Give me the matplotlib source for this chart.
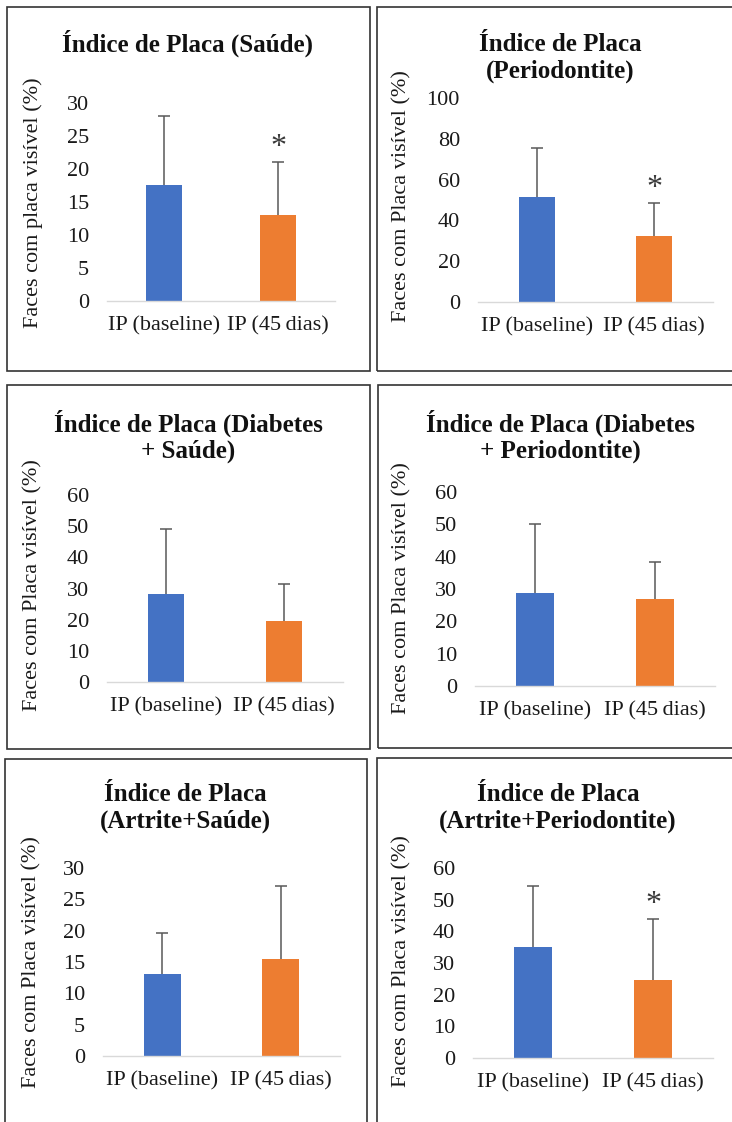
import matplotlib
matplotlib.use("Agg")
import numpy as np
import matplotlib.pyplot as plt
from matplotlib.patches import Rectangle

plt.rcParams['font.family'] = ['Liberation Serif', 'DejaVu Serif']

# dados
categorias = ['IP (baseline)', 'IP (45\u2009dias)']

titulos = [
    'Índice de Placa (Saúde)',
    'Índice de Placa\n(Periodontite)',
    'Índice de Placa (Diabetes\n+ Saúde)',
    'Índice de Placa (Diabetes\n+ Periodontite)',
    'Índice de Placa\n(Artrite+Saúde)',
    'Índice de Placa\n(Artrite+Periodontite)',
]
rotulos_y = ['Faces com placa visível (%)'] + ['Faces com Placa visível (%)'] * 5

medias = [
    [17.6, 13.0],
    [51.5, 32.5],
    [28.1, 19.5],
    [28.8, 26.8],
    [13.1, 15.4],
    [35.2, 24.7],
]
desvios = [
    [10.4, 8.1],
    [24.1, 16.0],
    [21.0, 11.9],
    [21.2, 11.5],
    [6.5, 11.8],
    [19.2, 19.2],
]
y_max = [30, 100, 60, 60, 30, 60]
y_passo = [5, 20, 10, 10, 5, 10]
asterisco = [True, True, False, False, False, True]

cores = ['#4472C4', '#ED7D31']

# layout em pixels: caixa (esq, topo, dir, base), eixo (esq, topo, dir, base),
# centro do título, centro do rótulo y
caixas = [(7, 7, 370, 371), (377, 7, 740, 371),
          (7, 385, 370, 749), (378, 385, 740, 748),
          (5, 759, 367, 1130), (377, 758, 740, 1130)]
eixos = [(107, 103, 335, 301), (478, 98, 713, 302),
         (107, 495, 343, 682), (475, 492, 715, 686),
         (103, 868, 340, 1056), (473, 868, 713, 1058)]
pos_titulo = [(188, 43), (560, 58), (188, 436), (560, 436), (185, 808), (558, 808)]
pos_rotulo = [(33, 203), (402, 196), (33, 585), (402, 588), (32, 962), (402, 961)]

W, H = 732, 1122
fig = plt.figure(figsize=(W / 100, H / 100), dpi=100)


def fx(x):
    return x / W


def fy(y):
    return 1 - y / H


for i in range(6):
    l, t, r, b = caixas[i]
    fig.patches.append(Rectangle((fx(l), fy(b)), fx(r - l), (b - t) / H,
                                 transform=fig.transFigure, fill=False,
                                 edgecolor='#333333', linewidth=1.2))

    x0, y0, x1, y1 = eixos[i]
    ax = fig.add_axes([fx(x0), fy(y1), fx(x1 - x0), (y1 - y0) / H])
    pos = [0, 1]
    ax.bar(pos, medias[i], width=0.31, color=cores, zorder=2)
    eb = ax.errorbar(pos, medias[i], yerr=[[0, 0], desvios[i]], fmt='none',
                     ecolor='#595959', elinewidth=1.1, capsize=4.3, capthick=1.1, zorder=3)
    # só a barra de cima: esconde o traço no topo da coluna
    for cap in eb[1]:
        if np.allclose(cap.get_ydata(), medias[i]):
            cap.set_visible(False)
    if asterisco[i]:
        ax.annotate('*', (1, medias[i][1] + desvios[i][1]), xytext=(0, 0),
                    textcoords='offset points', ha='center', va='bottom',
                    fontsize=23, color='#3a3a3a')

    ax.set_xlim(-0.5, 1.5)
    ax.set_ylim(0, y_max[i])
    ax.set_yticks(range(0, y_max[i] + 1, y_passo[i]))
    ax.set_xticks(pos)
    ax.set_xticklabels(categorias)
    for s in ['top', 'right', 'left']:
        ax.spines[s].set_visible(False)
    ax.spines['bottom'].set_color('#d9d9d9')
    ax.spines['bottom'].set_linewidth(1.0)
    ax.tick_params(axis='both', length=0, labelsize=16, colors='#1a1a1a')
    ax.tick_params(axis='y', pad=13)
    ax.tick_params(axis='x', pad=11)

    tx, ty = pos_titulo[i]
    fig.text(fx(tx), fy(ty), titulos[i], ha='center', va='center',
             fontsize=18, fontweight='bold', linespacing=1.15, color='#111111')
    rx, ry = pos_rotulo[i]
    fig.text(fx(rx), fy(ry), rotulos_y[i], ha='center', va='center',
             rotation=90, fontsize=16, color='#1a1a1a')

fig.savefig('out.png', dpi=100)
